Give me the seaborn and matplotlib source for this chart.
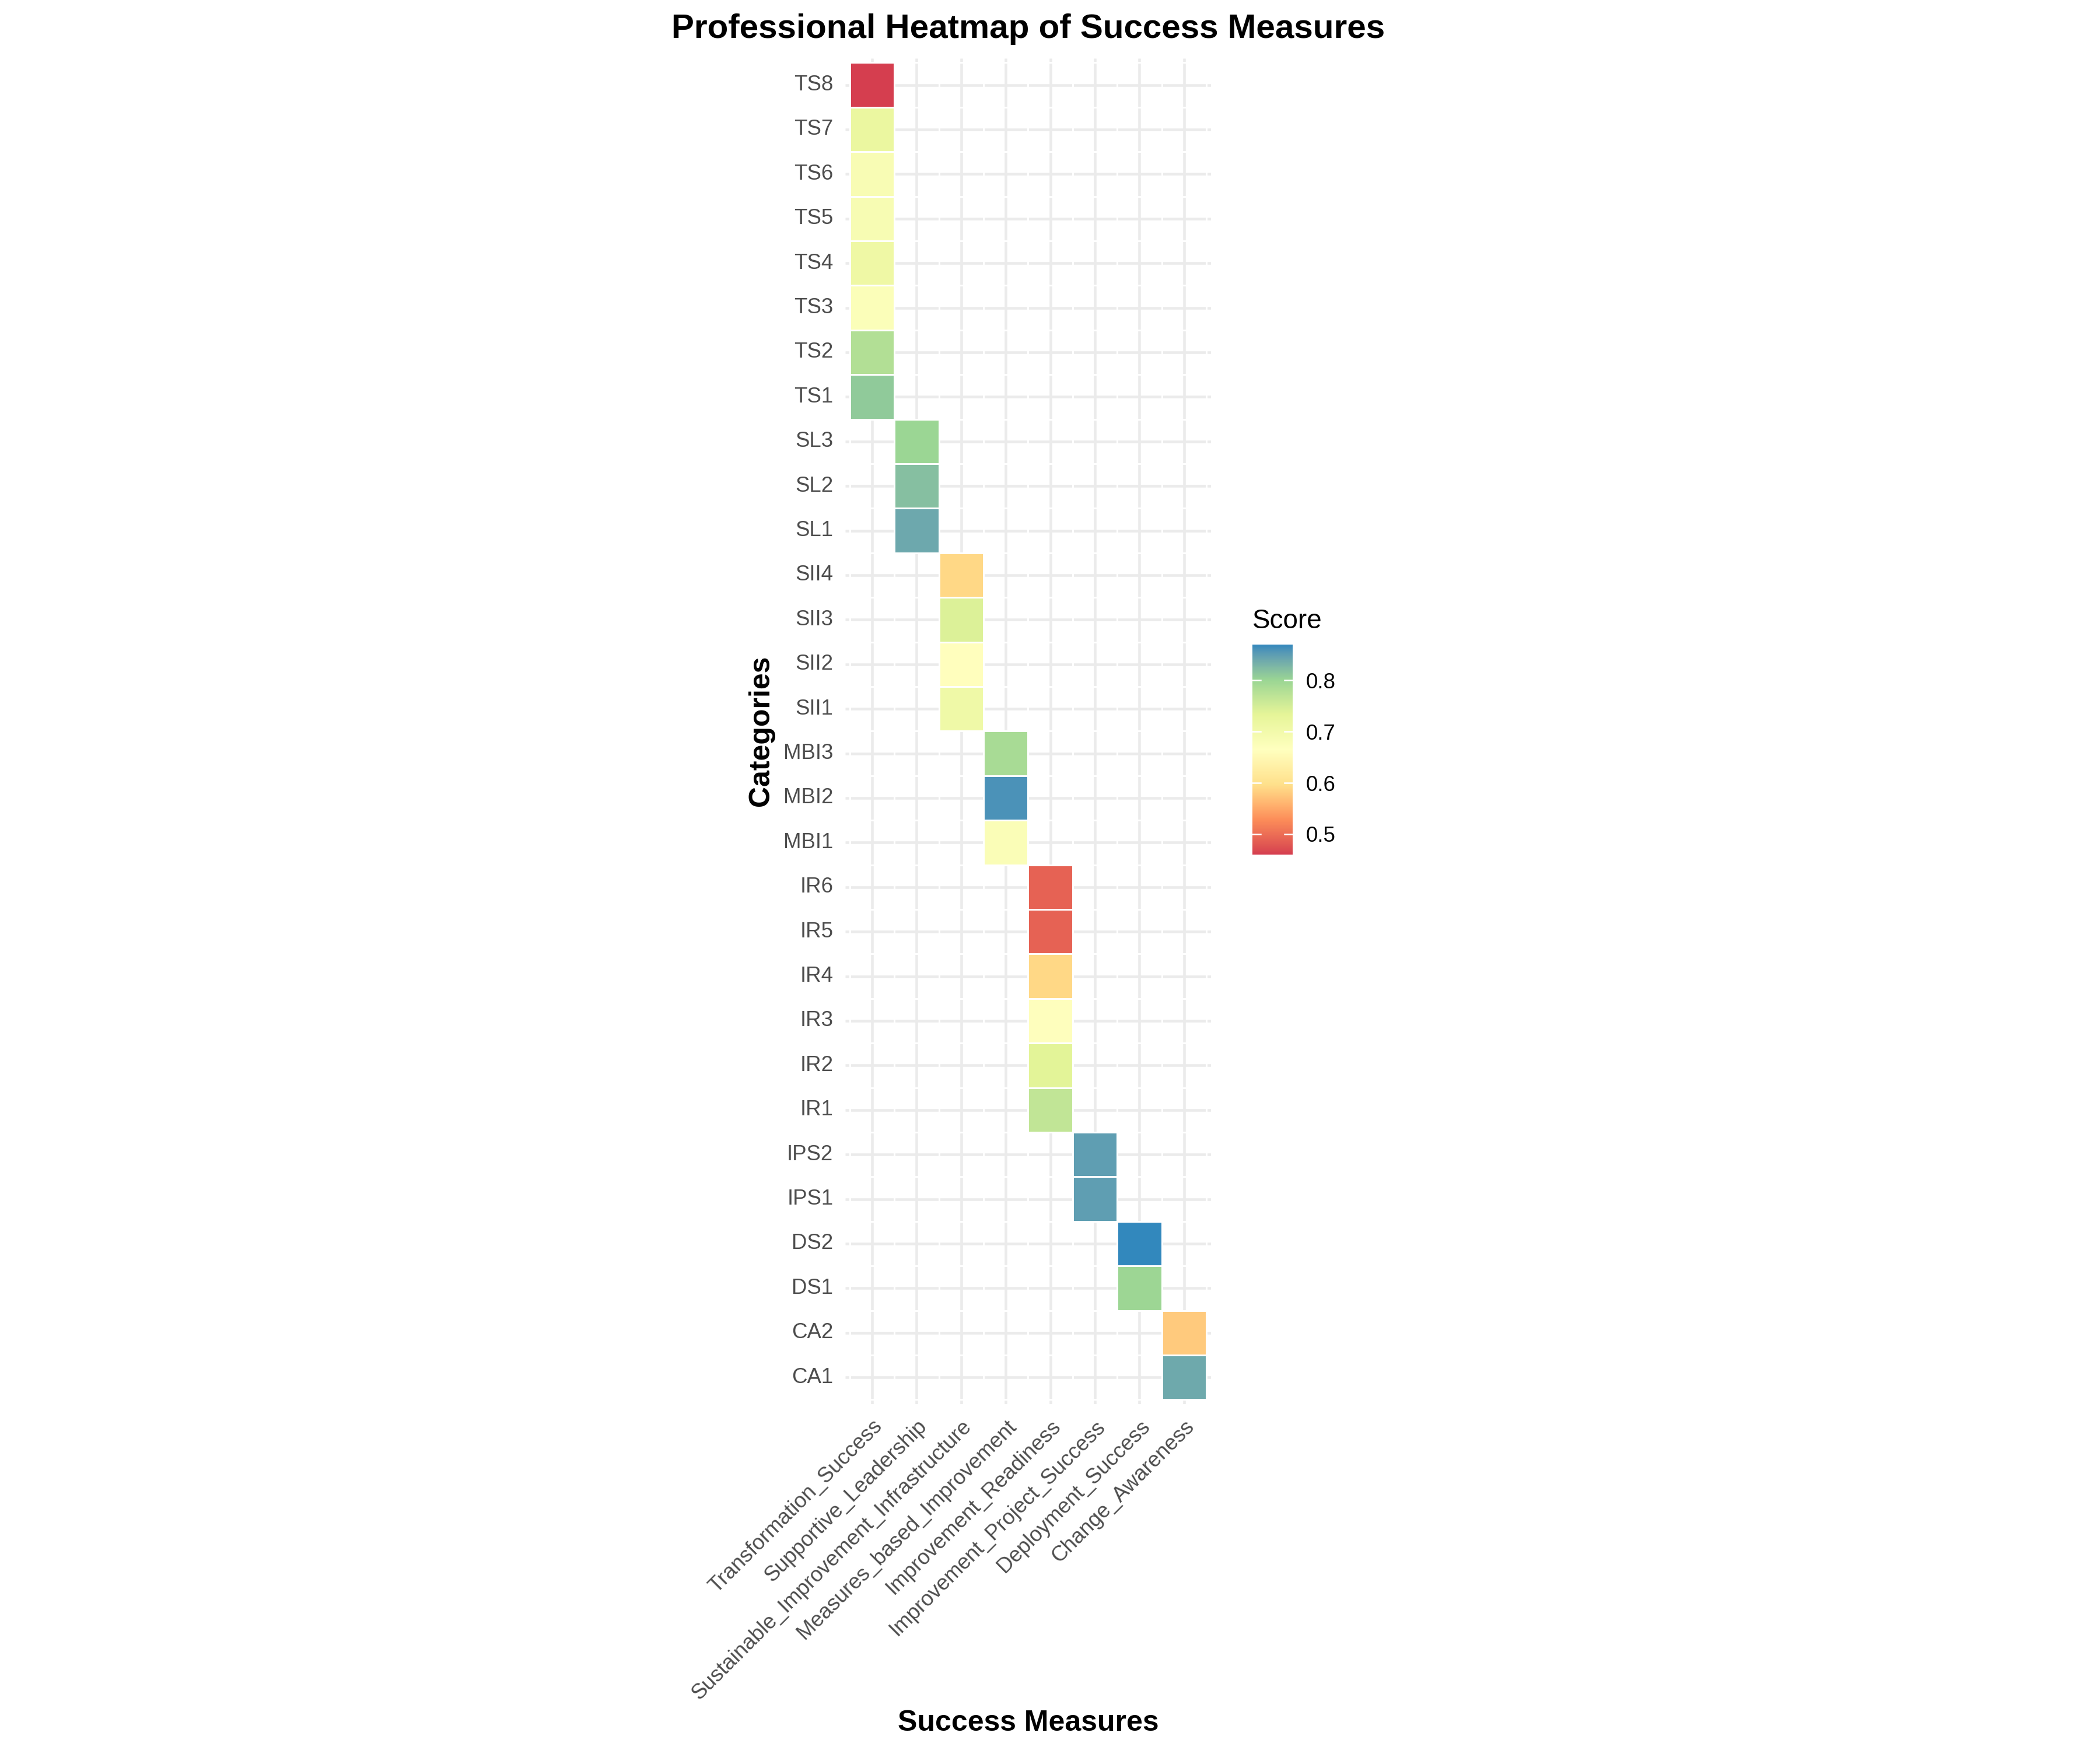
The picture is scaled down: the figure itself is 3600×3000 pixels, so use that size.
import numpy as np
import pandas as pd
import matplotlib
matplotlib.use("Agg")
import matplotlib.pyplot as plt
import matplotlib.transforms as mtransforms
from matplotlib.colors import ListedColormap, to_rgb
import seaborn as sns

# ---------------- data ----------------
measures = [
    "Transformation_Success",
    "Supportive_Leadership",
    "Sustainable_Improvement_Infrastructure",
    "Measures_based_Improvement",
    "Improvement_Readiness",
    "Improvement_Project_Success",
    "Deployment_Success",
    "Change_Awareness",
]

ts_items = ["TS1", "TS2", "TS3", "TS4", "TS5", "TS6", "TS7", "TS8"]
ts_scores = [0.81, 0.78, 0.675, 0.71, 0.686, 0.685, 0.72, 0.46]

sl_items = ["SL1", "SL2", "SL3"]
sl_scores = [0.84, 0.82, 0.80]

sii_items = ["SII1", "SII2", "SII3", "SII4"]
sii_scores = [0.708, 0.663, 0.742, 0.59]

mbi_items = ["MBI1", "MBI2", "MBI3"]
mbi_scores = [0.679, 0.86, 0.789]

ir_items = ["IR1", "IR2", "IR3", "IR4", "IR5", "IR6"]
ir_scores = [0.767, 0.736, 0.669, 0.59, 0.489, 0.489]

ips_items = ["IPS1", "IPS2"]
ips_scores = [0.849, 0.849]

ds_items = ["DS1", "DS2"]
ds_scores = [0.798, 0.87]

ca_items = ["CA1", "CA2"]
ca_scores = [0.839, 0.578]

blocks = [
    (measures[0], ts_items, ts_scores),
    (measures[1], sl_items, sl_scores),
    (measures[2], sii_items, sii_scores),
    (measures[3], mbi_items, mbi_scores),
    (measures[4], ir_items, ir_scores),
    (measures[5], ips_items, ips_scores),
    (measures[6], ds_items, ds_scores),
    (measures[7], ca_items, ca_scores),
]
records = []
for m, items, scores in blocks:
    for it, sc in zip(items, scores):
        records.append({"Measure": m, "Category": it, "Score": sc})
df = pd.DataFrame(records)

row_order = sorted(df["Category"].unique(), reverse=True)  # top -> bottom
mat = df.pivot(index="Category", columns="Measure", values="Score")
mat = mat.reindex(index=row_order, columns=measures)

# ---------------- colour scale (Spectral 7, interpolated in Lab) ----------------
spectral7 = ["#D53E4F", "#FC8D59", "#FEE08B", "#FFFFBF", "#E6F598", "#99D594", "#3288BD"]

_M = np.array([[0.4124564, 0.3575761, 0.1804375],
               [0.2126729, 0.7151522, 0.0721750],
               [0.0193339, 0.1191920, 0.9503041]])
_Minv = np.linalg.inv(_M)
_wp = np.array([0.95047, 1.0, 1.08883])
_d = 6 / 29


def _rgb2lab(rgb):
    c = np.asarray(rgb)
    lin = np.where(c <= 0.04045, c / 12.92, ((c + 0.055) / 1.055) ** 2.4)
    t = _M @ lin / _wp
    fx, fy, fz = np.where(t > _d ** 3, np.cbrt(t), t / (3 * _d * _d) + 4 / 29)
    return np.array([116 * fy - 16, 500 * (fx - fy), 200 * (fy - fz)])


def _lab2rgb(lab):
    L, a, b = lab
    fy = (L + 16) / 116
    fvals = np.array([fy + a / 500, fy, fy - b / 200])
    t = np.where(fvals > _d, fvals ** 3, 3 * _d * _d * (fvals - 4 / 29)) * _wp
    lin = np.clip(_Minv @ t, 0, 1)
    return np.clip(np.where(lin <= 0.0031308, 12.92 * lin, 1.055 * lin ** (1 / 2.4) - 0.055), 0, 1)


_labs = np.array([_rgb2lab(to_rgb(c)) for c in spectral7])
_pos = np.linspace(0, 1, len(spectral7))
_ps = np.linspace(0, 1, 512)
_lab_i = np.stack([np.interp(_ps, _pos, _labs[:, k]) for k in range(3)], axis=1)
cmap = ListedColormap([_lab2rgb(l) for l in _lab_i], name="spectral7_lab")

vmin, vmax = df["Score"].min(), df["Score"].max()

# ---------------- figure ----------------
plt.rcParams["font.family"] = ["Liberation Sans", "DejaVu Sans"]
W, H = 3600, 3000
fig = plt.figure(figsize=(12, 10), dpi=300)
fig.patch.set_facecolor("white")

unit = 76.4
col0 = 1495.0
row0 = 145.5
ncol, nrow = len(measures), len(row_order)
left_px = col0 - 0.6 * unit
top_px = row0 - 0.6 * unit
w_px = (ncol + 0.2) * unit
h_px = (nrow + 0.2) * unit
ax = fig.add_axes([left_px / W, 1 - (top_px + h_px) / H, w_px / W, h_px / H])
cax = fig.add_axes([2147 / W, 1 - 1465 / H, 69 / W, 360 / H])

sns.heatmap(mat, ax=ax, cbar_ax=cax, cmap=cmap, vmin=vmin, vmax=vmax,
            linewidths=0.3, linecolor="white",
            xticklabels=True, yticklabels=True,
            cbar_kws={"ticks": [0.5, 0.6, 0.7, 0.8]})

mesh = ax.collections[0]
mesh.set_zorder(2)

ax.set_xlim(-0.1, ncol + 0.1)
ax.set_ylim(nrow + 0.1, -0.1)
ax.grid(False)
ax.set_facecolor("white")
for s in ax.spines.values():
    s.set_visible(False)

# panel grid (behind tiles)
ax.vlines(np.arange(ncol) + 0.5, -0.1, nrow + 0.1, color="#EBEBEB", lw=1.1, zorder=0.5)
ax.hlines(np.arange(nrow) + 0.5, -0.1, ncol + 0.1, color="#EBEBEB", lw=1.1, zorder=0.5)
# white borders of empty tiles
ax.vlines(np.arange(ncol + 1), 0, nrow, color="white", lw=0.4, zorder=0.6)
ax.hlines(np.arange(nrow + 1), 0, ncol, color="white", lw=0.4, zorder=0.6)

ax.set_xlabel("")
ax.set_ylabel("")
ax.tick_params(axis="both", length=0, labelsize=8.8, labelcolor="#4D4D4D", pad=5)
plt.setp(ax.get_xticklabels(), rotation=45, ha="right", va="top", rotation_mode="anchor")
plt.setp(ax.get_yticklabels(), rotation=0, ha="right")

# colorbar styling
cbar = mesh.colorbar
cbar.outline.set_visible(False)
cbar.set_ticks([0.5, 0.6, 0.7, 0.8])
cbar.set_ticklabels(["0.5", "0.6", "0.7", "0.8"])
cax.tick_params(length=0, pad=5.5, labelsize=8.8, labelcolor="black")
trans = mtransforms.blended_transform_factory(cax.transAxes, cax.transData)
for t in [0.5, 0.6, 0.7, 0.8]:
    cax.plot([0, 0.2], [t, t], color="white", lw=0.6, transform=trans, zorder=5)
    cax.plot([0.8, 1.0], [t, t], color="white", lw=0.6, transform=trans, zorder=5)

fig.text(2147 / W, 1 - 1077 / H, "Score", fontsize=11, ha="left", va="baseline")

# titles
panel_cx = (left_px + w_px / 2) / W
fig.text(panel_cx, 1 - 65 / H, "Professional Heatmap of Success Measures",
         fontsize=14, fontweight="bold", ha="center", va="baseline")
fig.text(panel_cx, 1 - 2967 / H, "Success Measures",
         fontsize=12, fontweight="bold", ha="center", va="baseline")
fig.text(1305 / W, 1 - (top_px + h_px / 2) / H, "Categories",
         fontsize=12, fontweight="bold", ha="center", va="center", rotation=90)

fig.savefig("out.png", dpi=300, facecolor="white")
